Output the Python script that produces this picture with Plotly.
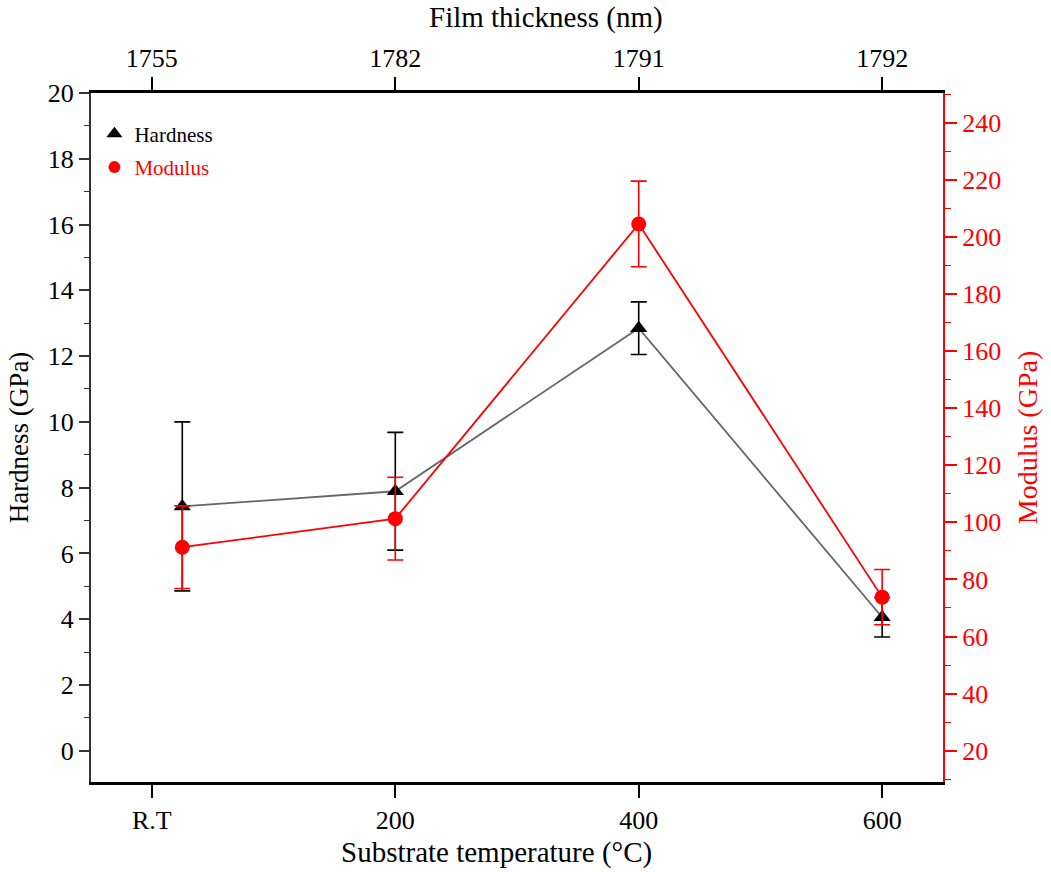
import plotly.graph_objects as go

# ---- data ----
temp_x = [25, 200, 400, 600]           # substrate temperature (R.T ~ 25 °C)
tick_vals = [0, 200, 400, 600]
bottom_labels = ["R.T", "200", "400", "600"]
top_labels = ["1755", "1782", "1791", "1792"]

hardness = [7.43, 7.89, 12.85, 4.06]
hardness_err = [2.57, 1.79, 0.80, 0.60]
modulus = [91.3, 101.3, 204.6, 73.8]
modulus_err = [14.5, 14.5, 15.0, 9.7]

FONT = "Liberation Serif, Times New Roman, serif"
RED = "#ff0000"

fig = go.Figure()

fig.add_trace(go.Scatter(
    x=temp_x, y=modulus, yaxis="y2", mode="lines+markers",
    line=dict(color=RED, width=1.8),
    marker=dict(symbol="circle", size=15, color=RED),
    error_y=dict(type="data", array=modulus_err, color=RED, thickness=1.6, width=8),
    showlegend=False, hoverinfo="skip"))

fig.add_trace(go.Scatter(
    x=temp_x, y=hardness, mode="lines+markers",
    line=dict(color="#666666", width=1.8),
    marker=dict(symbol="triangle-up", size=15, color="black"),
    error_y=dict(type="data", array=hardness_err, color="black", thickness=1.6, width=8),
    showlegend=False, hoverinfo="skip"))

# legend-only entries (marker only); hardness one also creates the top axis subplot
fig.add_trace(go.Scatter(
    x=[None], y=[None], xaxis="x2", mode="markers",
    marker=dict(symbol="triangle-up", size=14, color="black"),
    name="<span style='color:black'>Hardness</span>", legendgroup="a"))
fig.add_trace(go.Scatter(
    x=[None], y=[None], mode="markers",
    marker=dict(symbol="circle", size=12, color=RED),
    name="<span style='color:red'>Modulus</span>", legendgroup="b"))

xrange = [-50, 650]
fig.update_layout(
    width=1051, height=872,
    margin=dict(l=91, r=108, t=93, b=90),
    paper_bgcolor="white", plot_bgcolor="white",
    font=dict(family=FONT, size=26, color="black"),
    xaxis=dict(
        range=xrange, tickmode="array", tickvals=tick_vals, ticktext=bottom_labels,
        showgrid=False, zeroline=False, showline=True, linecolor="black", linewidth=2.5,
        ticks="outside", ticklen=13, tickwidth=1.5, tickcolor="black",
        tickfont=dict(size=26),
    ),
    xaxis2=dict(
        range=xrange, overlaying="x", side="top", anchor="y",
        tickmode="array", tickvals=tick_vals, ticktext=top_labels,
        showgrid=False, zeroline=False, showline=True, linecolor="black", linewidth=2.5,
        ticks="outside", ticklen=13, tickwidth=1.5, tickcolor="black",
        tickfont=dict(size=26),
    ),
    yaxis=dict(
        range=[-0.95, 20], dtick=2, tick0=0,
        showgrid=False, zeroline=False, showline=True, linecolor="#333333", linewidth=2,
        ticks="outside", ticklen=10, tickwidth=1.5, tickcolor="#333333",
        minor=dict(dtick=1, ticklen=5, tickwidth=1.2, tickcolor="#333333", ticks="outside"),
        title=dict(text="Hardness (GPa)", font=dict(size=27), standoff=11),
        tickfont=dict(size=26),
    ),
    yaxis2=dict(
        range=[9, 250.5], overlaying="y", side="right", anchor="x",
        tickmode="linear", tick0=20, dtick=20,
        showgrid=False, zeroline=False, showline=True, linecolor=RED, linewidth=2,
        ticks="outside", ticklen=12, tickwidth=1.5, tickcolor=RED,
        minor=dict(dtick=10, ticklen=6, tickwidth=1.2, tickcolor=RED, ticks="outside"),
        title=dict(text="Modulus (GPa)", font=dict(size=28, color=RED), standoff=17),
        tickfont=dict(size=26, color=RED),
    ),
    legend=dict(
        x=0.004, y=0.97, xanchor="left", yanchor="top",
        bgcolor="rgba(0,0,0,0)", borderwidth=0,
        font=dict(family=FONT, size=21), tracegroupgap=3,
        itemwidth=30,
    ),
    annotations=[
        dict(text="Substrate temperature (°C)", xref="paper", yref="paper",
             x=0.4765, y=-0.103, xanchor="center", yanchor="middle",
             showarrow=False, font=dict(family=FONT, size=29, color="black")),
        dict(text="Film thickness (nm)", xref="paper", yref="paper",
             x=0.534, y=1.109, xanchor="center", yanchor="middle",
             showarrow=False, font=dict(family=FONT, size=29, color="black")),
    ],
)

fig.write_html("out.html")
